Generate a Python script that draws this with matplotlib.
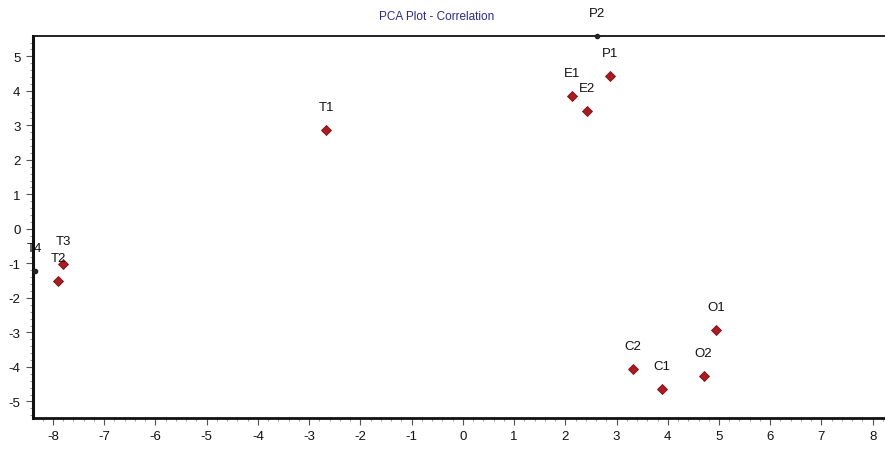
import numpy as np
import matplotlib
matplotlib.use("Agg")
from matplotlib import pyplot as plt
from matplotlib.ticker import MultipleLocator

plt.rcParams['font.family'] = ['Liberation Sans', 'DejaVu Sans']
plt.rcParams['axes.unicode_minus'] = False

# sample scores
names = ["P1", "E1", "E2", "T1", "T3", "T2", "O1", "C2", "C1", "O2"]
pc1 = [2.87, 2.13, 2.42, -2.67, -7.80, -7.90, 4.94, 3.32, 3.88, 4.70]
pc2 = [4.43, 3.86, 3.42, 2.87, -1.01, -1.51, -2.93, -4.06, -4.64, -4.26]

# samples sitting on the plot border (drawn as small black dots)
edge_names = ["P2", "T4"]
edge_pc1 = [2.61, -8.36]
edge_pc2 = [5.59, -1.22]

xlim = (-8.39, 8.24)
ylim = (-5.48, 5.59)

fig = plt.figure(figsize=(8.85, 4.52), dpi=100)
ax = fig.add_axes([33/885, 1-419/452, 1-33/885, (419-37)/452])

ax.plot(pc1, pc2, linestyle='none', marker='D', markersize=5,
        markerfacecolor='#a81c22', markeredgecolor='#7a1016', markeredgewidth=0.6, zorder=3)
ax.plot(edge_pc1, edge_pc2, linestyle='none', marker='o', markersize=3,
        color='#222222', clip_on=False, zorder=4)

for n, x, y in zip(names + edge_names, pc1 + edge_pc1, pc2 + edge_pc2):
  ax.annotate(n, (x, y), xytext=(0, 12), textcoords='offset points',
              ha='center', va='bottom', fontsize=9.5, color='#111111',
              annotation_clip=False)

ax.set_xlim(*xlim)
ax.set_ylim(*ylim)
ax.xaxis.set_major_locator(MultipleLocator(1))
ax.xaxis.set_minor_locator(MultipleLocator(0.2))
ax.yaxis.set_major_locator(MultipleLocator(1))
ax.yaxis.set_minor_locator(MultipleLocator(0.2))
ax.tick_params(which='major', direction='out', length=5, width=0.8, labelsize=9.5,
               colors='#555555', labelcolor='#111111', pad=4)
ax.tick_params(which='minor', direction='out', length=2.5, width=0.6, colors='#888888')

ax.spines['right'].set_visible(False)
ax.spines['left'].set_linewidth(2.2)
ax.spines['bottom'].set_linewidth(2.0)
ax.spines['top'].set_linewidth(1.3)
for s in ax.spines.values():
  s.set_color('#111111')

fig.text(437/885, 1-17/452, "PCA Plot - Correlation", ha='center', va='center',
         fontsize=8.5, color='#2a2a8a')

fig.savefig("out.png", dpi=100)
